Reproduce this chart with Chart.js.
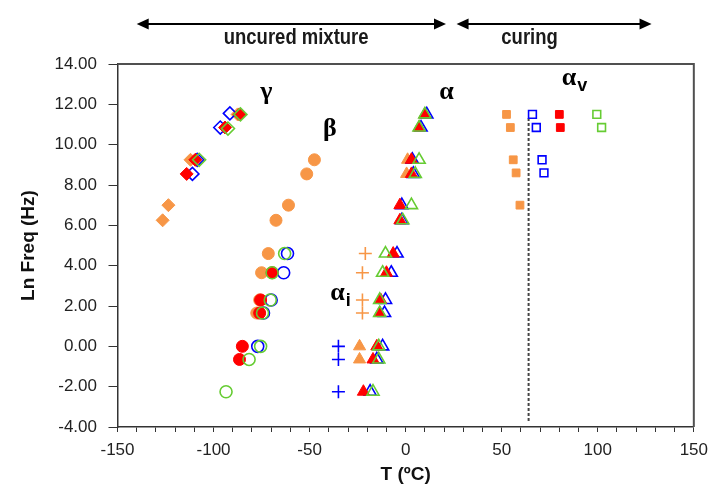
<!DOCTYPE html>
<html>
<head>
<meta charset="utf-8">
<script src="https://cdn.jsdelivr.net/npm/chart.js@4.4.0/dist/chart.umd.min.js"></script>
<style>
  html, body { margin: 0; padding: 0; background: #fff; }
  #wrap { width: 716px; height: 488px; }
</style>
</head>
<body>
<div id="wrap"><canvas id="relaxChart"></canvas></div>
<script>
// [T (ºC), ln f (Hz)]
const gammaOrange = [[-126.5, 6.25], [-123.5, 7.0], [-112, 9.25], [-87.5, 11.5]];
const gammaRed    = [[-86.5, 11.5], [-94, 10.85], [-109.5, 9.25], [-114, 8.55]];
const gammaBlue   = [[-91.5, 11.55], [-96.5, 10.85], [-108.5, 9.25], [-111, 8.55]];
const gammaGreen  = [[-86, 11.5], [-92.5, 10.8], [-107.5, 9.25]];

const betaOrange = [[-47.5, 9.25], [-51.5, 8.55], [-61, 7.0], [-67.5, 6.25], [-71.5, 4.6], [-75, 3.65], [-76, 2.3], [-77.5, 1.65]];
const betaRed    = [[-69.5, 3.65], [-75.5, 2.3], [-76, 1.65], [-85, 0], [-86.5, -0.65]];
const betaBlue   = [[-61.5, 4.6], [-63.5, 3.65], [-70, 2.3], [-74, 1.65], [-77, 0]];
const betaGreen  = [[-63, 4.6], [-69.5, 3.65], [-70.5, 2.3], [-74.5, 1.65], [-75.5, 0], [-81.5, -0.65], [-93.5, -2.25]];

const alphaOrange = [[1, 9.25], [0.5, 8.55], [-24, 0], [-24, -0.65]];
const alphaRed    = [[10, 11.5], [7, 10.85], [3, 9.25], [3, 8.55], [-3, 7.0], [-3, 6.25], [-6.5, 4.6], [-10, 3.65], [-13, 2.3], [-13.5, 1.65], [-15, 0], [-17, -0.65], [-22, -2.25]];
const alphaBlue   = [[11, 11.5], [8, 10.85], [3.5, 9.25], [4, 8.55], [-2, 7.0], [-2, 6.25], [-4.5, 4.6], [-7.5, 3.65], [-10.5, 2.3], [-11, 1.65], [-12, 0], [-15, -0.65], [-18.5, -2.25]];
const alphaGreen  = [[10, 11.5], [7, 10.85], [7, 9.25], [5, 8.55], [3, 7.0], [-1.5, 6.25], [-10.5, 4.6], [-12, 3.65], [-13.5, 2.3], [-13.5, 1.65], [-14, 0], [-14, -0.65], [-17, -2.25]];

const alphaIOrange = [[-21, 4.6], [-22.5, 3.65], [-22.5, 2.3], [-22.5, 1.65]];
const alphaIBlue   = [[-35, 0], [-35, -0.65], [-35, -2.25]];

const alphaVOrange = [[52.5, 11.5], [54.5, 10.85], [56, 9.25], [57.5, 8.6], [59.5, 7.0]];
const alphaVBlue   = [[66, 11.5], [68, 10.85], [71, 9.25], [72, 8.6]];
const alphaVRed    = [[80, 11.5], [80.5, 10.85]];
const alphaVGreen  = [[99.5, 11.5], [102, 10.85]];

const gelLine = [[64, -3.7], [64, 11.4]];

const xTicks = [-150, -100, -50, 0, 50, 100, 150];

const ORANGE = '#F79646', RED = '#FF0000', BLUE = '#0000FF', GREEN = '#66CC33';

// text bits drawn above / inside the plot
const phaseSpans = [
    { from: -140, to: 21, textT: -57, text: 'uncured mixture' },
    { from: 26.5, to: 128, textT: 64.5, text: 'curing' }
];
const greekLabels = [
    { t: -72.5, f: 12.6, main: 'γ', sub: '' },
    { t: -39.5, f: 10.75, main: 'β', sub: '' },
    { t: 21.3, f: 12.6, main: 'α', sub: '' },
    { t: -35.5, f: 2.65, main: 'α', sub: 'i' },
    { t: 85, f: 13.3, main: 'α', sub: 'v' }
];

function pts(arr) {
    return arr.map(p => ({ x: p[0], y: p[1] }));
}

function series(arr, color, style, filled, radius) {
    return {
        data: pts(arr),
        showLine: false,
        pointStyle: style,
        pointRadius: radius,
        pointHoverRadius: radius,
        borderColor: color,
        backgroundColor: filled ? color : 'rgba(0,0,0,0)',
        pointBorderWidth: filled ? 1 : 1.6
    };
}

// first dataset ends up on top
const datasets = [
    series(gammaGreen, GREEN, 'rectRot', false, 6.5),
    series(betaGreen, GREEN, 'circle', false, 6),
    series(alphaGreen, GREEN, 'triangle', false, 7),
    series(alphaVGreen, GREEN, 'rect', false, 5.5),
    series(gammaRed, RED, 'rectRot', true, 6.5),
    series(betaRed, RED, 'circle', true, 6),
    series(alphaRed, RED, 'triangle', true, 7),
    series(alphaVRed, RED, 'rect', true, 5.5),
    series(gammaBlue, BLUE, 'rectRot', false, 6.5),
    series(betaBlue, BLUE, 'circle', false, 6),
    series(alphaBlue, BLUE, 'triangle', false, 7),
    series(alphaVBlue, BLUE, 'rect', false, 5.5),
    series(alphaIBlue, BLUE, 'cross', false, 6.5),
    series(gammaOrange, ORANGE, 'rectRot', true, 6.5),
    series(betaOrange, ORANGE, 'circle', true, 6),
    series(alphaOrange, ORANGE, 'triangle', true, 7),
    series(alphaVOrange, ORANGE, 'rect', true, 5.5),
    series(alphaIOrange, ORANGE, 'cross', false, 6.5),
    {
        data: pts(gelLine),
        showLine: true,
        borderColor: '#444',
        borderWidth: 2,
        borderDash: [3, 2],
        pointRadius: 0,
        pointHoverRadius: 0
    }
];

const decorPlugin = {
    id: 'decor',
    afterDraw(chart) {
        const { ctx, chartArea: a, scales: { x, y } } = chart;
        ctx.save();

        // top and right frame
        ctx.strokeStyle = '#505050';
        ctx.lineWidth = 2;
        ctx.beginPath();
        ctx.moveTo(a.left, a.top);
        ctx.lineTo(a.right, a.top);
        ctx.lineTo(a.right, a.bottom);
        ctx.stroke();

        // phase arrows
        const ay = 24, head = 12, hw = 5.5;
        ctx.fillStyle = '#000';
        ctx.strokeStyle = '#000';
        phaseSpans.forEach(s => {
            const x1 = x.getPixelForValue(s.from), x2 = x.getPixelForValue(s.to);
            ctx.lineWidth = 2;
            ctx.beginPath();
            ctx.moveTo(x1 + head - 2, ay);
            ctx.lineTo(x2 - head + 2, ay);
            ctx.stroke();
            ctx.beginPath();
            ctx.moveTo(x1, ay); ctx.lineTo(x1 + head, ay - hw); ctx.lineTo(x1 + head, ay + hw); ctx.closePath();
            ctx.fill();
            ctx.beginPath();
            ctx.moveTo(x2, ay); ctx.lineTo(x2 - head, ay - hw); ctx.lineTo(x2 - head, ay + hw); ctx.closePath();
            ctx.fill();

            // narrow bold text: squeeze a normal bold face horizontally
            const tx = x.getPixelForValue(s.textT);
            ctx.save();
            ctx.translate(tx, 38);
            ctx.scale(0.84, 1);
            ctx.font = 'bold 22px "Liberation Sans", Arial, sans-serif';
            ctx.fillStyle = '#1a1a1a';
            ctx.textAlign = 'center';
            ctx.textBaseline = 'middle';
            ctx.fillText(s.text, 0, 0);
            ctx.restore();
        });

        // relaxation labels
        greekLabels.forEach(g => {
            const px = x.getPixelForValue(g.t), py = y.getPixelForValue(g.f);
            ctx.font = 'bold 26px "Liberation Serif", serif';
            ctx.fillStyle = '#000';
            ctx.textAlign = 'center';
            ctx.textBaseline = 'middle';
            ctx.fillText(g.main, px, py);
            if (g.sub) {
                const w = ctx.measureText(g.main).width;
                ctx.font = 'bold 18px "Liberation Sans", sans-serif';
                ctx.textAlign = 'left';
                ctx.fillText(g.sub, px + w / 2 + 1, py + 8);
            }
        });
        ctx.restore();
    }
};

const ctx = document.getElementById('relaxChart').getContext('2d');
new Chart(ctx, {
    type: 'scatter',
    data: { datasets: datasets },
    options: {
        responsive: true,
        maintainAspectRatio: false,
        animation: false,
        layout: { padding: { left: 0, right: 21, top: 64, bottom: 0 } },
        plugins: {
            legend: { display: false },
            tooltip: { enabled: false }
        },
        scales: {
            x: {
                type: 'linear',
                min: -150,
                max: 150,
                afterFit: s => { s.height = 61; },
                border: { display: true, color: '#333', width: 1.5 },
                grid: { drawOnChartArea: false, drawTicks: true, tickLength: 5, color: '#333' },
                ticks: {
                    stepSize: 10,
                    autoSkip: false,
                    maxRotation: 0,
                    padding: 8,
                    color: '#222',
                    font: { family: '"Liberation Sans", Arial, sans-serif', size: 17 },
                    callback: v => xTicks.includes(v) ? String(v) : ''
                },
                title: {
                    display: true,
                    text: 'T (ºC)',
                    color: '#111',
                    padding: { top: 0, bottom: 2 },
                    font: { family: '"Liberation Sans", Arial, sans-serif', size: 19, weight: 'bold' }
                }
            },
            y: {
                type: 'linear',
                min: -4,
                max: 14,
                afterFit: s => { s.width = 117.5; },
                border: { display: true, color: '#333', width: 1.5 },
                grid: { drawOnChartArea: false, drawTicks: true, tickLength: 9, color: '#333' },
                ticks: {
                    stepSize: 2,
                    padding: 11.5,
                    color: '#222',
                    font: { family: '"Liberation Sans", Arial, sans-serif', size: 17 },
                    callback: v => v.toFixed(2)
                },
                title: {
                    display: true,
                    text: 'Ln Freq (Hz)',
                    color: '#111',
                    padding: { top: 17, bottom: 0 },
                    font: { family: '"Liberation Sans", Arial, sans-serif', size: 19, weight: 'bold' }
                }
            }
        }
    },
    plugins: [decorPlugin]
});
</script>
</body>
</html>
